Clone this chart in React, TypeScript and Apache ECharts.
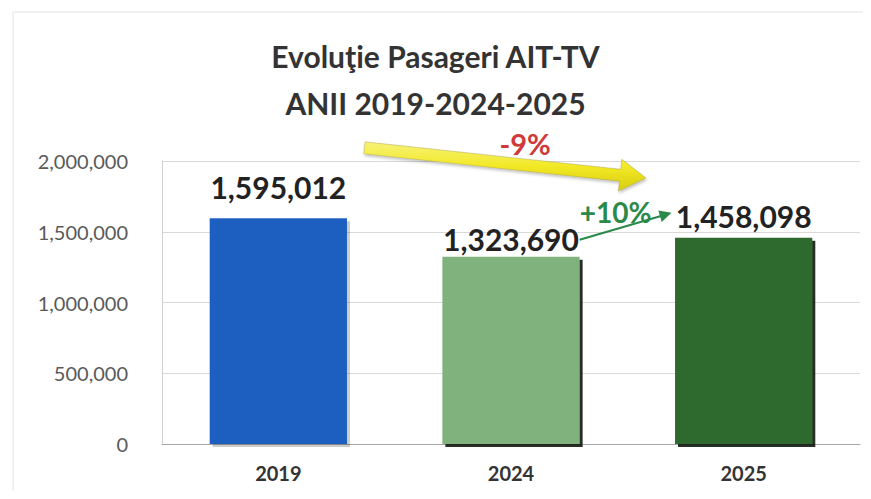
import React, { useEffect, useRef } from "react";
import * as echarts from "echarts";

const categories = ["2019", "2024", "2025"];
const passengers = [1595012, 1323690, 1458098];
const barColors = ["#1f5fc0", "#7fb27b", "#2f6a2f"];
const labelDistances = [16, 3, 7];
const yTicks = { min: 0, max: 2000000, interval: 500000 };
const titleLines = ["Evoluţie Pasageri AIT-TV", "ANII 2019-2024-2025"];
const changeLabels = ["-9%", "+10%"];

const FONT = "Lato, 'Open Sans', sans-serif";

function fmt(v: number) {
  return v.toLocaleString("en-US");
}

function arrowPolygon(x1: number, y1: number, x2: number, y2: number, shaftHalf: number, headLen: number, headHalf: number) {
  const dx = x2 - x1;
  const dy = y2 - y1;
  const len = Math.sqrt(dx * dx + dy * dy);
  const ux = dx / len;
  const uy = dy / len;
  const nx = -uy;
  const ny = ux;
  const bx = x2 - ux * headLen;
  const by = y2 - uy * headLen;
  return [
    [x1 + nx * shaftHalf, y1 + ny * shaftHalf],
    [bx + nx * shaftHalf, by + ny * shaftHalf],
    [bx + nx * headHalf, by + ny * headHalf],
    [x2, y2],
    [bx - nx * headHalf, by - ny * headHalf],
    [bx - nx * shaftHalf, by - ny * shaftHalf],
    [x1 - nx * shaftHalf, y1 - ny * shaftHalf],
  ];
}

export default function App() {
  const ref = useRef<HTMLDivElement>(null);
  useEffect(() => {
    if (!ref.current) return;
    const chart = echarts.init(ref.current, undefined, { renderer: "svg" });
    chart.setOption({
      animation: false,
      backgroundColor: "#ffffff",
      title: {
        text: titleLines.join("\n"),
        left: "center",
        top: 27,
        textStyle: {
          fontFamily: FONT,
          fontWeight: "bold",
          fontSize: 30,
          color: "#333333",
          lineHeight: 47,
        },
      },
      grid: { left: 162, right: 11, top: 161, bottom: 55, containLabel: false },
      xAxis: {
        type: "category",
        data: categories,
        axisLine: { show: true, lineStyle: { color: "#a6a6a6", width: 1 } },
        axisTick: { show: false },
        axisLabel: {
          margin: 19,
          fontFamily: FONT,
          fontWeight: "bold",
          fontSize: 20,
          color: "#333333",
        },
      },
      yAxis: {
        type: "value",
        min: yTicks.min,
        max: yTicks.max,
        interval: yTicks.interval,
        axisLine: { show: true, lineStyle: { color: "#d0d0d0" } },
        axisTick: { show: false },
        splitLine: { lineStyle: { color: "#d9d9d9", width: 1 } },
        axisLabel: {
          margin: 34,
          fontFamily: FONT,
          fontSize: 20,
          color: "#5a5a5a",
          formatter: (v: number) => fmt(v),
        },
      },
      series: [
        {
          type: "bar",
          barWidth: "59%",
          data: passengers.map((v, i) => ({
            value: v,
            itemStyle: {
              color: barColors[i],
              shadowColor: i === 0 ? "rgba(0,0,0,0.2)" : "rgba(10,25,10,0.9)",
              shadowBlur: 1,
              shadowOffsetX: 3,
              shadowOffsetY: 3,
            },
            label: { distance: labelDistances[i] },
          })),
          label: {
            show: true,
            position: "top",
            fontFamily: FONT,
            fontWeight: "bold",
            fontSize: 30,
            color: "#222222",
            formatter: (p: any) => fmt(p.value),
          },
        },
      ],
    });

    // Annotation arrows anchored to the data scale
    const c0 = chart.convertToPixel({ xAxisIndex: 0 }, categories[0]) as number;
    const c1 = chart.convertToPixel({ xAxisIndex: 0 }, categories[1]) as number;
    const c2 = chart.convertToPixel({ xAxisIndex: 0 }, categories[2]) as number;
    const band = c1 - c0;
    const py = (v: number) => chart.convertToPixel({ yAxisIndex: 0 }, v) as number;

    const yx1 = c0 + band * 0.37;
    const yy1 = py(2093000);
    const yx2 = c2 - band * 0.42;
    const yy2 = py(1880000);

    const gx1 = c1 + band * 0.295;
    const gy1 = py(1443000);
    const gx2 = c2 - band * 0.31;
    const gy2 = py(1634000);

    chart.setOption({
      graphic: [
        {
          type: "rect",
          shape: { x: 13, y: 12, width: 900, height: 520 },
          style: { fill: "none", stroke: "#e3e3e3", lineWidth: 1 },
          silent: true,
          z: 0,
        },
        {
          type: "polygon",
          shape: { points: arrowPolygon(yx1, yy1, yx2, yy2, 6, 26, 16) },
          style: {
            fill: new echarts.graphic.LinearGradient(0, 0, 0, 1, [
              { offset: 0, color: "#f7f27a" },
              { offset: 0.5, color: "#f2e925" },
              { offset: 1, color: "#d8cc10" },
            ]),
            stroke: "rgba(150,140,60,0.35)",
            lineWidth: 1,
            shadowColor: "rgba(0,0,0,0.25)",
            shadowBlur: 3,
            shadowOffsetX: 1,
            shadowOffsetY: 2,
          },
          z: 50,
        },
        {
          type: "text",
          x: (yx1 + yx2) / 2 + 20,
          y: yy1 - 4,
          style: {
            text: changeLabels[0],
            fontFamily: FONT,
            fontWeight: "bold",
            fontSize: 29,
            fill: "#cf3a3a",
            align: "center",
            verticalAlign: "middle",
          },
          z: 60,
        },
        {
          type: "line",
          shape: { x1: gx1, y1: gy1, x2: gx2 - 8, y2: gy2 + 2.5 },
          style: { stroke: "#2b8a4a", lineWidth: 2.2 },
          z: 50,
        },
        {
          type: "polygon",
          shape: { points: arrowPolygon(gx2 - 12, gy2 + 3.5, gx2, gy2, 1, 12, 6) },
          style: { fill: "#2b8a4a" },
          z: 50,
        },
        {
          type: "text",
          x: c2 - band * 0.55,
          y: py(1640000),
          style: {
            text: changeLabels[1],
            fontFamily: FONT,
            fontWeight: "bold",
            fontSize: 28,
            fill: "#2b8a4a",
            align: "center",
            verticalAlign: "middle",
          },
          z: 45,
        },
      ],
    });

    return () => chart.dispose();
  }, []);
  return <div ref={ref} style={{ width: 871, height: 499, margin: -8 }} />;
}
